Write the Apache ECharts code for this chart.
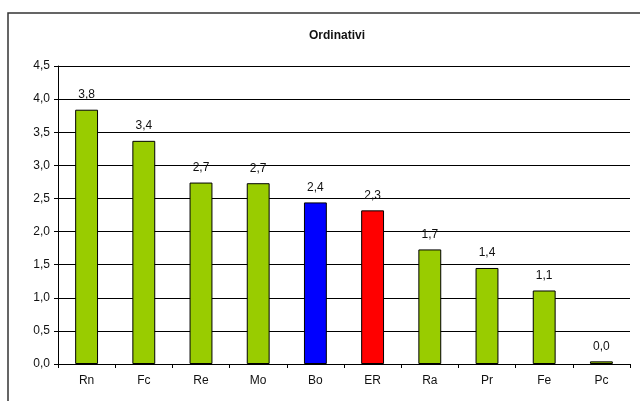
<!DOCTYPE html>
<html>
<head>
<meta charset="utf-8">
<script src="https://cdn.jsdelivr.net/npm/echarts@6/dist/echarts.min.js"></script>
<style>
  html, body { margin: 0; padding: 0; background: #fff; }
  #chart { width: 640px; height: 401px; }
</style>
</head>
<body>
<div id="chart"></div>
<script>
// dati
var categories = ['Rn', 'Fc', 'Re', 'Mo', 'Bo', 'ER', 'Ra', 'Pr', 'Fe', 'Pc'];
var values = [3.84, 3.37, 2.74, 2.73, 2.44, 2.32, 1.73, 1.45, 1.11, 0.04];
var barColors = ['#99cc00', '#99cc00', '#99cc00', '#99cc00', '#0000ff', '#ff0000', '#99cc00', '#99cc00', '#99cc00', '#99cc00'];

function virgola(v) {
  return v.toFixed(1).replace('.', ',');
}

var myChart = echarts.init(document.getElementById('chart'));
var font = 'Liberation Sans';

var option = {
  animation: false,
  textStyle: { fontFamily: font },
  title: {
    text: 'Ordinativi',
    left: 304,
    top: 25,
    textStyle: { fontFamily: font, fontSize: 12, fontWeight: 'bold', color: '#111' }
  },
  graphic: [{
    type: 'rect',
    shape: { x: 8, y: 13, width: 700, height: 500 },
    style: { fill: null, stroke: '#333', lineWidth: 1.5 },
    silent: true
  }],
  grid: { left: 58, right: 10, top: 66, bottom: 37 },
  xAxis: {
    type: 'category',
    data: categories,
    axisLine: { lineStyle: { color: '#000', width: 1 } },
    axisTick: { show: true, length: 4, alignWithLabel: false, lineStyle: { color: '#000' } },
    axisLabel: { color: '#111', fontSize: 12, margin: 11 }
  },
  yAxis: {
    type: 'value',
    min: 0,
    max: 4.5,
    interval: 0.5,
    axisLine: { show: true, lineStyle: { color: '#000', width: 1 } },
    axisTick: { show: true, length: 4, lineStyle: { color: '#000' } },
    axisLabel: {
      color: '#111', fontSize: 12, margin: 8,
      formatter: function (v) { return virgola(v); }
    },
    splitLine: { lineStyle: { color: '#000', width: 1 } }
  },
  series: [{
    type: 'bar',
    barWidth: '40%',
    data: values.map(function (v, i) {
      return { value: v, itemStyle: { color: barColors[i] } };
    }),
    itemStyle: { borderColor: '#000', borderWidth: 1 },
    label: {
      show: true,
      position: 'top',
      distance: 9,
      color: '#111',
      fontSize: 12,
      formatter: function (p) { return virgola(p.value); }
    }
  }]
};

myChart.setOption(option);
</script>
</body>
</html>
